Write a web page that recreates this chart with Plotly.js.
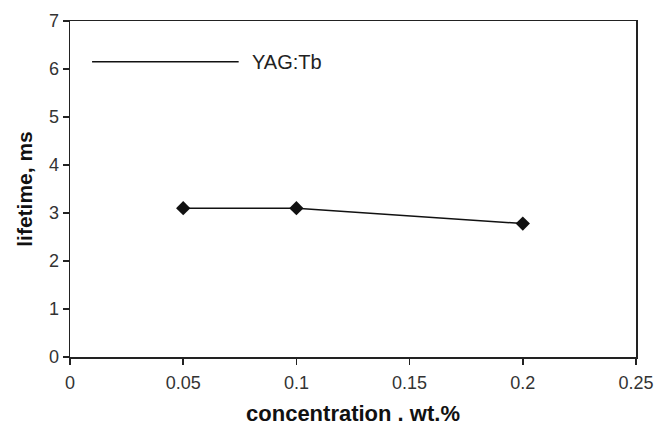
<!DOCTYPE html>
<html>
<head>
<meta charset="utf-8">
<script src="https://cdn.plot.ly/plotly-3.0.1.min.js"></script>
<style>html,body{margin:0;padding:0;background:#fff;}#chart{width:657px;height:426px;}</style>
</head>
<body>
<div id="chart"></div>
<script>
const seriesName = "YAG:Tb";
const concentration = [0.05, 0.1, 0.2];
const lifetime = [3.1, 3.1, 2.78];
const xTicks = [0, 0.05, 0.1, 0.15, 0.2, 0.25];
const xTickLabels = ["0", "0.05", "0.1", "0.15", "0.2", "0.25"];
const yTicks = [0, 1, 2, 3, 4, 5, 6, 7];

const font = "Liberation Sans, Arial, sans-serif";
const trace = {
  x: concentration, y: lifetime, name: seriesName,
  mode: "lines+markers", type: "scatter",
  line: {color: "#111", width: 1.5, shape: "spline", smoothing: 0.15},
  marker: {symbol: "diamond", size: 11, color: "#111"},
  showlegend: false
};
const layout = {
  width: 657, height: 426,
  margin: {l: 70, r: 21, t: 21, b: 69},
  paper_bgcolor: "#fff", plot_bgcolor: "#fff",
  font: {family: font, color: "#333", size: 18},
  xaxis: {
    range: [0, 0.25], tickvals: xTicks, ticktext: xTickLabels,
    ticks: "outside", ticklen: 6, tickcolor: "#222", tickwidth: 1.5,
    ticklabelstandoff: 3,
    showline: true, linecolor: "#222", linewidth: 1.5, mirror: true,
    showgrid: false, zeroline: false, tickfont: {size: 18},
    title: {text: "concentration . wt.%", font: {size: 22, family: font, weight: "bold", color: "#111"}, standoff: 14}
  },
  yaxis: {
    range: [0, 7], tickvals: yTicks,
    ticks: "outside", ticklen: 6, tickcolor: "#222", tickwidth: 1.5,
    showline: true, linecolor: "#222", linewidth: 1.5, mirror: true,
    showgrid: false, zeroline: false, tickfont: {size: 18},
    title: {text: "lifetime, ms", font: {size: 21, family: font, weight: "bold", color: "#111"}, standoff: 10}
  },
  shapes: [{type: "line", xref: "paper", yref: "paper", x0: 0.039, x1: 0.298, y0: 0.879, y1: 0.879, line: {color: "#111", width: 1.5}}],
  annotations: [{xref: "paper", yref: "paper", x: 0.318, y: 0.879, xanchor: "left", yanchor: "middle", text: seriesName, showarrow: false, font: {size: 20, family: font, color: "#222"}}]
};
Plotly.newPlot("chart", [trace], layout, {displayModeBar: false, staticPlot: true});
</script>
</body>
</html>
